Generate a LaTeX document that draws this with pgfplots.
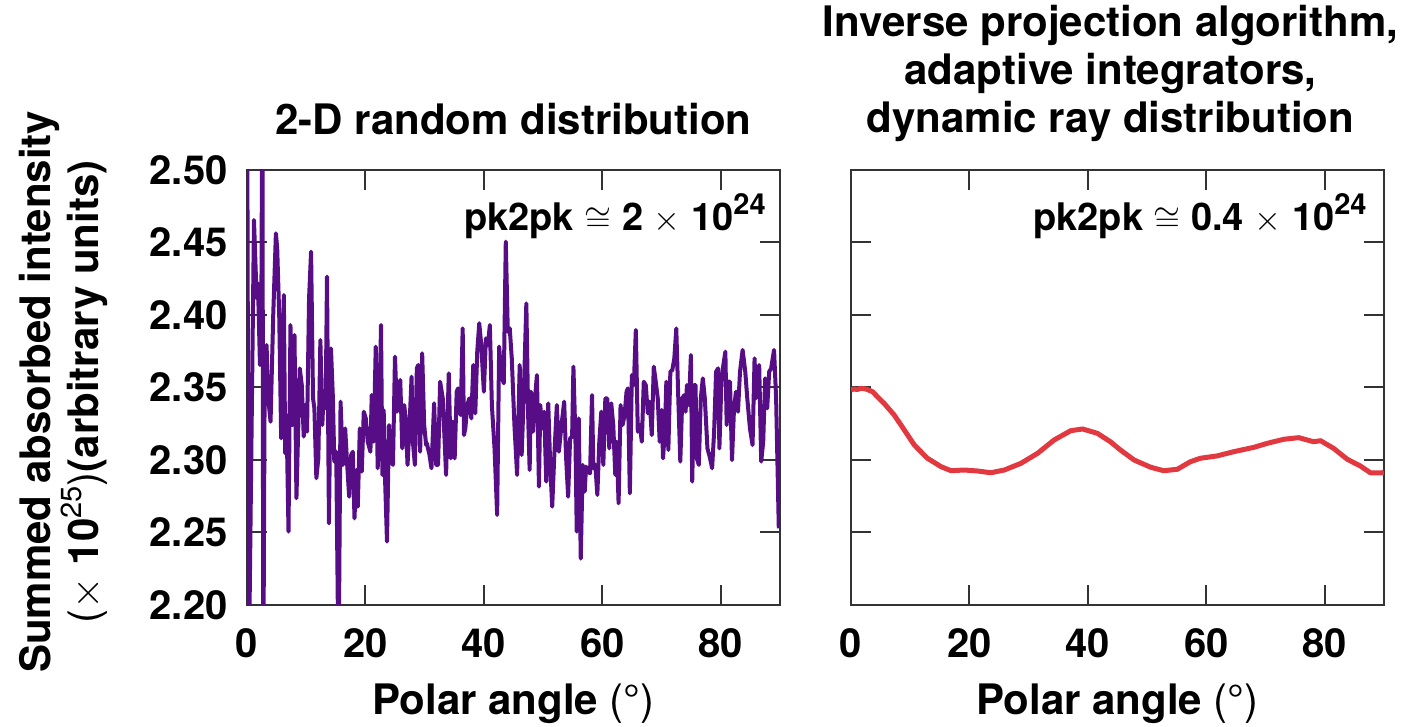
\documentclass[border=0pt]{standalone}
\usepackage{fontspec}
\setmainfont{TeX Gyre Heros}
\usepackage{pgfplots}
\pgfplotsset{compat=1.18}

\definecolor{rdpurple}{HTML}{560D86}
\definecolor{ipred}{HTML}{E2383F}
\definecolor{framegray}{HTML}{333333}

\newcommand{\labfont}{\fontsize{21}{24}\selectfont\bfseries}
\newcommand{\tickfont}{\fontsize{20}{22}\selectfont\bfseries}
\newcommand{\notefont}{\fontsize{19}{21}\selectfont\bfseries}
\newcommand{\supnum}[1]{\raisebox{0.42em}{\fontsize{14.5}{15}\selectfont #1}}

\pgfplotsset{
  panel/.style={
    scale only axis, width=266.5pt, height=217.5pt,
    xmin=0, xmax=90, ymin=2.2, ymax=2.5,
    xtick={0,20,40,60,80},
    ytick={2.20,2.25,2.30,2.35,2.40,2.45,2.50},
    tick align=inside, major tick length=10pt,
    tick style={framegray, line width=1pt},
    axis line style={framegray, line width=1pt},
    /pgf/number format/assume math mode=true,
    every tick label/.append style={font=\tickfont},
    xticklabel style={anchor=north, inner sep=0pt, yshift=-11.5pt},
    yticklabel style={anchor=east, inner sep=0pt, xshift=-9.5pt,
      /pgf/number format/fixed, /pgf/number format/fixed zerofill,
      /pgf/number format/precision=2},
    xlabel={Polar angle {\mdseries(°)}},
    xlabel style={at={(axis description cs:0.5,0)}, anchor=base,
      yshift=-55pt, inner sep=0pt, font=\labfont},
    every axis title shift=0pt,
    title style={font=\labfont, inner sep=0pt, align=center},
  }
}

\begin{document}
\begin{tikzpicture}
% left panel: 2-D random ray distribution
\begin{axis}[panel, at={(0pt,0pt)}, anchor=south west,
  title={2-D random distribution},
  title style={at={(axis description cs:0.5,1)}, anchor=base, yshift=17.5pt},
  ylabel={Summed absorbed intensity\\{\mdseries(}$\times$ 10{\mdseries\supnum{25})}(arbitrary units)},
  ylabel style={at={(axis description cs:-0.344,0.49)}, anchor=center,
    align=center, font=\labfont, inner sep=0pt},
]
\addplot[rdpurple, line width=2pt, line join=round] coordinates {
(0,2.60) (0.3,2.15) (1.18,2.4655) (1.63,2.4115) (1.85,2.4218) (2.19,2.3655)
(2.41,2.3885) (2.6,2.58) (2.75,2.14) (2.97,2.3425) (3.31,2.3793) (3.53,2.3448)
(3.98,2.3264) (4.43,2.40) (4.88,2.4563) (5.10,2.4460) (5.44,2.40) (5.77,2.3149)
(6.22,2.4138) (6.45,2.3046) (6.67,2.3310) (7.01,2.2506) (7.34,2.3931) (7.68,2.3241)
(8.02,2.3862) (8.35,2.2736) (8.91,2.3632) (9.25,2.3517) (9.58,2.3161) (9.81,2.3379)
(10.14,2.3195) (10.48,2.4115) (10.82,2.4437) (11.15,2.3425) (11.38,2.3356) (11.71,2.2874)
(12.05,2.3011) (12.39,2.3828) (12.72,2.3241) (12.95,2.3471) (13.28,2.3356) (13.51,2.4264)
(13.84,2.2563) (14.18,2.3770) (14.51,2.3425) (14.74,2.2989) (15.07,2.3057) (15.46,2.15)
(15.80,2.3402) (16.19,2.2966) (16.58,2.3218) (16.92,2.2966) (17.25,2.2747) (17.59,2.3034)
(17.87,2.3057) (18.15,2.2598) (18.49,2.2931) (18.71,2.2678) (19.05,2.3218) (19.38,2.2920)
(19.72,2.3333) (20.06,2.3287) (20.39,2.3126) (20.84,2.3057) (21.06,2.3448) (21.40,2.3126)
(21.74,2.3782) (22.07,2.2943) (22.30,2.3195) (22.63,2.3931) (22.86,2.2897) (23.08,2.3345)
(23.31,2.2874) (23.64,2.2437) (23.98,2.3241) (24.31,2.3011) (24.65,2.2966) (24.99,2.3713)
(25.32,2.3333) (25.55,2.3425) (25.88,2.3552) (26.22,2.3080) (26.55,2.3379) (26.78,2.3287)
(27.11,2.2966) (27.45,2.3241) (27.79,2.3575) (28.01,2.3126) (28.35,2.2966) (28.68,2.3632)
(28.91,2.3655) (29.24,2.3057) (29.58,2.3736) (29.92,2.3241) (30.25,2.3103) (30.37,2.3115)
(30.82,2.3034) (31.15,2.2943) (31.60,2.3391) (31.94,2.2966) (32.27,2.2966) (32.61,2.3540)
(33.06,2.3425) (33.62,2.2897) (34.07,2.3598) (34.40,2.3011) (34.74,2.3264) (35.07,2.3011)
(35.41,2.3471) (35.63,2.3494) (35.86,2.3333) (36.08,2.3310) (36.42,2.3908) (36.64,2.3172)
(36.87,2.3218) (37.20,2.3379) (37.54,2.3425) (37.88,2.3287) (38.21,2.3655) (38.55,2.3322)
(38.88,2.3747) (39.22,2.3943) (39.56,2.3793) (40.00,2.3471) (40.34,2.3839) (40.68,2.3793)
(41.01,2.3931) (41.35,2.3379) (41.80,2.3080) (42.24,2.2621) (42.58,2.3782) (42.92,2.3586)
(43.36,2.3529) (43.70,2.4506) (44.04,2.3885) (44.37,2.3908) (44.71,2.3701) (45.16,2.3241)
(45.61,2.2897) (46.05,2.3655) (46.38,2.3034) (46.72,2.3425) (47.17,2.4080) (47.50,2.3264)
(47.73,2.2931) (47.95,2.3471) (48.29,2.3195) (48.63,2.3425) (48.96,2.3586) (49.30,2.2816)
(49.52,2.3379) (49.86,2.3218) (50.19,2.3333) (50.53,2.2851) (50.87,2.3391) (51.20,2.2966)
(51.54,2.2678) (51.87,2.3011) (52.32,2.3379) (52.66,2.3057) (53.11,2.3241) (53.56,2.3402)
(53.89,2.3011) (54.23,2.2747) (54.56,2.3149) (54.90,2.3161) (55.12,2.3644) (55.46,2.3149)
(55.68,2.2506) (56.02,2.3287) (56.36,2.2320) (56.69,2.2966) (57.03,2.2782) (57.25,2.2954)
(57.59,2.2920) (57.93,2.2908) (58.26,2.3448) (58.49,2.2943) (58.82,2.2966) (59.16,2.2759)
(59.49,2.3126) (59.83,2.3333) (60.17,2.2966) (60.51,2.3425) (60.84,2.3425) (61.18,2.3080)
(61.51,2.3391) (61.85,2.3241) (62.19,2.2897) (62.41,2.3126) (62.75,2.2701) (63.08,2.3379)
(63.42,2.3241) (63.76,2.3310) (64.09,2.3471) (64.32,2.3494) (64.65,2.2770) (64.99,2.3586)
(65.32,2.3517) (65.66,2.3897) (65.99,2.3195) (66.33,2.3241) (66.67,2.3126) (67.00,2.3540)
(67.34,2.3517) (67.68,2.3322) (68.01,2.3402) (68.35,2.3172) (68.69,2.3644) (69.02,2.3540)
(69.36,2.3425) (69.69,2.3126) (70.03,2.3345) (70.25,2.3011) (70.59,2.3218) (70.81,2.3540)
(71.15,2.3069) (71.49,2.3609) (71.82,2.3621) (72.16,2.3701) (72.49,2.3908) (72.83,2.3425)
(73.17,2.2989) (73.50,2.3425) (73.84,2.3448) (74.06,2.3333) (74.29,2.3517) (74.62,2.3379)
(74.96,2.3724) (75.18,2.2851) (75.52,2.3517) (75.74,2.3517) (75.96,2.3011) (76.30,2.2966)
(76.63,2.3425) (76.97,2.3563) (77.31,2.3425) (77.75,2.3080) (78.20,2.3011) (78.54,2.2943)
(78.88,2.3195) (79.21,2.3609) (79.55,2.3632) (79.77,2.3080) (80.11,2.3540) (80.44,2.3655)
(80.78,2.3747) (81.00,2.3241) (81.23,2.3540) (81.56,2.3540) (81.90,2.3000) (82.24,2.3356)
(82.57,2.3471) (82.91,2.3333) (83.25,2.3609) (83.69,2.3759) (84.14,2.3609) (84.48,2.3425)
(84.93,2.3218) (85.37,2.3103) (85.71,2.3701) (85.93,2.3425) (86.27,2.3517) (86.49,2.3655)
(86.83,2.2989) (87.17,2.3126) (87.50,2.3563) (87.84,2.3356) (88.18,2.3609) (88.51,2.3632)
(89.00,2.3759) (89.35,2.3425) (89.80,2.2529)
};
\node[font=\notefont, anchor=base east, inner sep=0pt]
  at (axis description cs:0.974,0.860) {pk2pk $\cong$ 2 $\times$ 10\supnum{24}};
\end{axis}

% right panel: inverse projection algorithm
\begin{axis}[panel, at={(302pt,0pt)}, anchor=south west,
  yticklabels={},
  title={Inverse projection algorithm,\\adaptive integrators,\\dynamic ray distribution},
  title style={at={(axis description cs:0.487,1)}, anchor=south, yshift=14pt},
]
\addplot[ipred, line width=2.5pt, line join=round] coordinates {
(0,2.3483) (0.5,2.3490) (1.0,2.3486) (1.7,2.3494) (2.5,2.3490) (3.65,2.3471)
(4.6,2.3430) (5.6,2.3390) (7.3,2.3310) (9.0,2.3207) (10.7,2.3103) (12.9,2.3012)
(15.2,2.2954) (16.9,2.2926) (19.1,2.2931) (21.4,2.2924) (23.6,2.2912) (25.9,2.2931)
(28.7,2.2977) (31.5,2.3046) (34.3,2.3138) (37.1,2.3202) (39.1,2.3214) (41.6,2.3184)
(43.8,2.3126) (45.5,2.3069) (47.8,2.3000) (50.6,2.2950) (52.8,2.2926) (55.1,2.2936)
(57.3,2.2988) (59.0,2.3012) (61.8,2.3028) (64.6,2.3057) (68.0,2.3087) (70.3,2.3115)
(73.1,2.3143) (75.6,2.3154) (78.1,2.3126) (79.3,2.3133) (81.5,2.3080) (83.8,2.3005)
(86.0,2.2959) (87.7,2.2912) (89.7,2.2912) (90,2.2915)
};
\node[font=\notefont, anchor=base east, inner sep=0pt]
  at (axis description cs:0.968,0.860) {pk2pk $\cong$ 0.4 $\times$ 10\supnum{24}};
\end{axis}

\pgfresetboundingbox
\path[use as bounding box] (-123.5pt,-61pt) rectangle (578pt,302.5pt);
\end{tikzpicture}
\end{document}
